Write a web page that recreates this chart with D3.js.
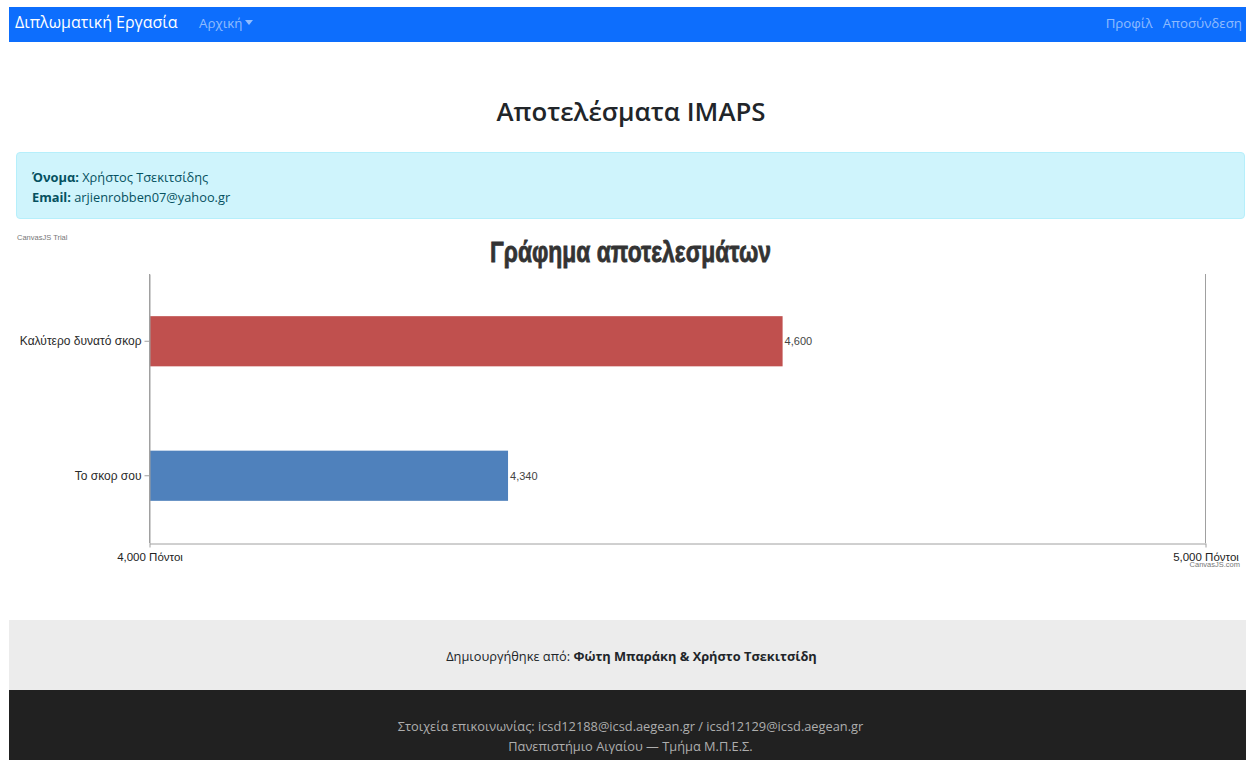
<!DOCTYPE html>
<html><head><meta charset="utf-8">
<script src="https://cdn.jsdelivr.net/npm/d3@7/dist/d3.min.js"></script>
<style>
html,body{margin:0;padding:0;background:#fff;width:1246px;height:760px;overflow:hidden;font-family:"Open Sans","Noto Sans",sans-serif;}
.abs{position:absolute;}
#nav{left:9px;top:7px;width:1237px;height:35px;background:#0d6efd;}
#brand{left:6px;top:4px;color:#fff;font-size:16px;white-space:nowrap;}
#home{left:190px;top:7px;color:rgba(255,255,255,0.55);font-size:13.3px;white-space:nowrap;}
#home .caret{display:inline-block;width:0;height:0;border-left:4px solid transparent;border-right:4px solid transparent;border-top:5px solid rgba(255,255,255,0.55);vertical-align:3px;margin-left:3px;}
#right{right:4px;top:7px;color:rgba(255,255,255,0.55);font-size:13.3px;white-space:nowrap;}
#h1{left:0;width:1262px;top:93px;text-align:center;font-size:25.8px;font-weight:600;color:#212529;}
#alert{left:16px;top:152px;width:1227px;height:65px;background:#cff4fc;border:1px solid #b6effb;border-radius:4px;color:#055160;font-size:12.8px;}
#alert div{position:absolute;left:15px;white-space:nowrap;}
#foot1{left:9px;top:620px;width:1237px;height:70px;background:#ececec;color:#212529;font-size:12.8px;text-align:center;}
#foot2{left:9px;top:690px;width:1237px;height:70px;background:#212121;color:#aeaeae;font-size:12.8px;text-align:center;}
svg{position:absolute;left:0;top:0;}
</style></head>
<body>
<div id="nav" class="abs">
  <div id="brand" class="abs">Διπλωματική Εργασία</div>
  <div id="home" class="abs">Αρχική<span class="caret"></span></div>
  <div id="right" class="abs">Προφίλ&nbsp;&nbsp;&nbsp;Αποσύνδεση</div>
</div>
<div id="h1" class="abs">Αποτελέσματα IMAPS</div>
<div id="alert" class="abs">
  <div style="top:15px"><b>Όνομα:</b> Χρήστος Τσεκιτσίδης</div>
  <div style="top:35px"><b>Email:</b> arjienrobben07@yahoo.gr</div>
</div>
<div id="foot1" class="abs"><div style="position:absolute;top:27px;left:4px;width:100%">Δημιουργήθηκε από: <b>Φώτη Μπαράκη &amp; Χρήστο Τσεκιτσίδη</b></div></div>
<div id="foot2" class="abs"><div style="position:absolute;top:26px;left:3px;width:100%;line-height:20px">Στοιχεία επικοινωνίας: icsd12188@icsd.aegean.gr / icsd12129@icsd.aegean.gr<br>Πανεπιστήμιο Αιγαίου — Τμήμα Μ.Π.Ε.Σ.</div></div>
<svg id="chart" width="1246" height="760"></svg>
<script>
const categories = ["Καλύτερο δυνατό σκορ", "Το σκορ σου"];
const values = [4600, 4340];
const barColors = ["#c0504e", "#4f81bc"];
const valueTicks = [4000, 5000];
const axisUnit = " Πόντοι";
const chartTitle = "Γράφημα αποτελεσμάτων";

const svg = d3.select("#chart");
const plot = {left:149, right:1205, top:274, bottom:543};

const x = d3.scaleLinear().domain([4000, 5000]).range([plot.left, plot.right]);
const pi = 0.627;
const y = d3.scaleBand().domain(categories).range([plot.top, plot.bottom]).paddingInner(pi).paddingOuter(pi/2);

// watermark / title
svg.append("text").attr("x",17).attr("y",240).attr("font-family","Liberation Sans, sans-serif").attr("font-size",7.5).attr("fill","#777").text("CanvasJS Trial");
svg.append("text").attr("x",490).attr("y",262)
  .attr("font-family","Liberation Sans, sans-serif").attr("font-weight","bold")
  .attr("font-size",30).attr("fill","#333").attr("stroke","#333").attr("stroke-width",0.8)
  .attr("textLength",281).attr("lengthAdjust","spacingAndGlyphs").text(chartTitle);

// gridlines
svg.append("g").selectAll("line").data(valueTicks).join("line")
  .attr("x1",d=>x(d)+0.5).attr("x2",d=>x(d)+0.5).attr("y1",plot.top).attr("y2",plot.bottom)
  .attr("stroke","#a0a0a0").attr("stroke-width",1);

// bars
svg.append("g").selectAll("rect").data(categories).join("rect")
  .attr("x",x(4000)+1).attr("y",d=>y(d)).attr("height",y.bandwidth())
  .attr("width",(d,i)=>x(values[i])-x(4000)-1).attr("fill",(d,i)=>barColors[i]);

// index labels
svg.append("g").selectAll("text").data(categories).join("text")
  .attr("x",(d,i)=>x(values[i])+2).attr("y",d=>y(d)+y.bandwidth()/2).attr("dy","0.35em")
  .attr("font-family","Liberation Sans, sans-serif").attr("font-size",11).attr("fill","#444")
  .text((d,i)=>d3.format(",")(values[i]));

// category axis
const ya = svg.append("g").attr("transform",`translate(${plot.left+0.5},0)`)
  .call(d3.axisLeft(y).tickSizeInner(5).tickSizeOuter(0).tickPadding(3));
ya.select(".domain").attr("stroke","#a0a0a0");
ya.selectAll(".tick line").attr("stroke","#a0a0a0");
ya.selectAll("text").attr("font-family","Liberation Sans, sans-serif").attr("font-size",12).attr("fill","#2a2a2a");

// value axis
const xa = svg.append("g").attr("transform",`translate(0.5,${plot.bottom+0.5})`)
  .call(d3.axisBottom(x).tickValues(valueTicks).tickSizeInner(4).tickSizeOuter(0).tickPadding(5).tickFormat(d=>d3.format(",")(d)+axisUnit));
xa.select(".domain").attr("stroke","#a0a0a0");
xa.selectAll(".tick line").attr("stroke","#a0a0a0");
xa.selectAll("text").attr("font-family","Liberation Sans, sans-serif").attr("font-size",11.5).attr("fill","#222");

svg.append("text").attr("x",1240).attr("y",567).attr("text-anchor","end").attr("font-family","Liberation Sans, sans-serif").attr("font-size",7.5).attr("fill","#777").text("CanvasJS.com");
</script>
</body></html>
